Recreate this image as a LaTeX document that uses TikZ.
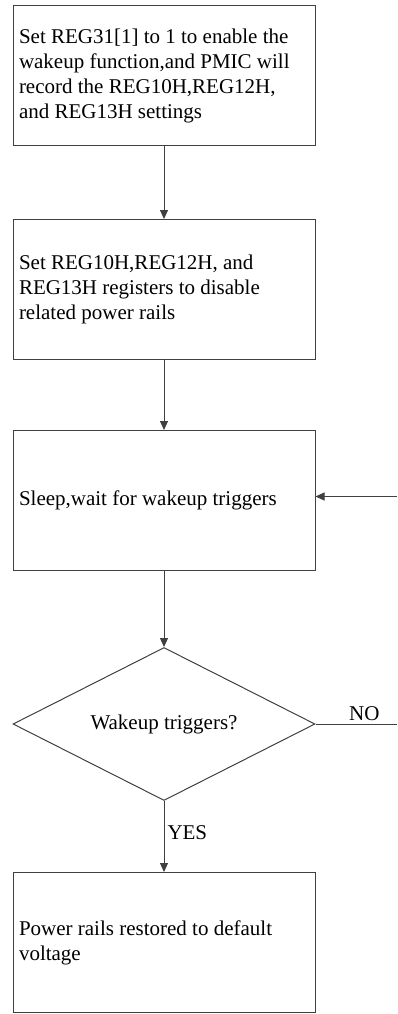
\documentclass[tikz,border=0pt]{standalone}
\usepackage{fontspec}
\setmainfont{Liberation Serif}
\usetikzlibrary{positioning,shapes.geometric,arrows.meta}

\tikzset{
	stepbox/.style={draw=black!75,line width=1pt,rectangle,text width=290pt,inner xsep=6pt,
		minimum height=140pt,align=flush left,font=\fontsize{21}{25}\selectfont},
	testbox/.style={draw=black!75,line width=1pt,diamond,aspect=2,inner sep=0pt,
		minimum width=302pt,minimum height=153pt,font=\fontsize{21}{25}\selectfont},
	flow/.style={draw=black!75,line width=1pt,-{Triangle[length=9pt,width=8pt]}},
	tag/.style={font=\fontsize{21}{25}\selectfont,inner sep=3pt}
}

\begin{document}
\begin{tikzpicture}
	\useasboundingbox (0pt,0pt) rectangle (397pt,-1014pt);	%page size
	
	%BOXES
	\node[stepbox] (wakeup) at (164pt,-75.5pt) {Set REG31[1] to 1 to enable the\\ wakeup function,and PMIC will\\ record the REG10H,REG12H,\\ and REG13H settings};
	\node[stepbox,below=73pt of wakeup] (disable) {Set REG10H,REG12H, and\\ REG13H registers to disable\\ related power rails};
	\node[stepbox,below=70pt of disable] (sleep) {Sleep,wait for wakeup triggers};
	\node[testbox,below=76pt of sleep] (trigger) {Wakeup triggers?};
	\node[stepbox,below=71pt of trigger] (restore) {Power rails restored to default\\ voltage};
	
	%LOOP ENDS AT THE PAGE EDGE
	\coordinate (edge) at (397pt,0pt);
	\coordinate (noend) at (trigger.east -| edge);
	\coordinate (backin) at ([yshift=4pt]sleep.east -| edge);
	
	%ARROWS
	\draw[flow] (wakeup) -- (disable);
	\draw[flow] (disable) -- (sleep);
	\draw[flow] (sleep) -- (trigger);
	\draw[flow] (trigger) -- node[tag,right,pos=0.44] {YES} (restore);
	\draw[draw=black!75,line width=1pt] (trigger.east) -- node[tag,above,pos=0.6] {NO} (noend);	%no
	\draw[flow] (backin) -- (backin -| sleep.east);	%back to sleep
\end{tikzpicture}
\end{document}
